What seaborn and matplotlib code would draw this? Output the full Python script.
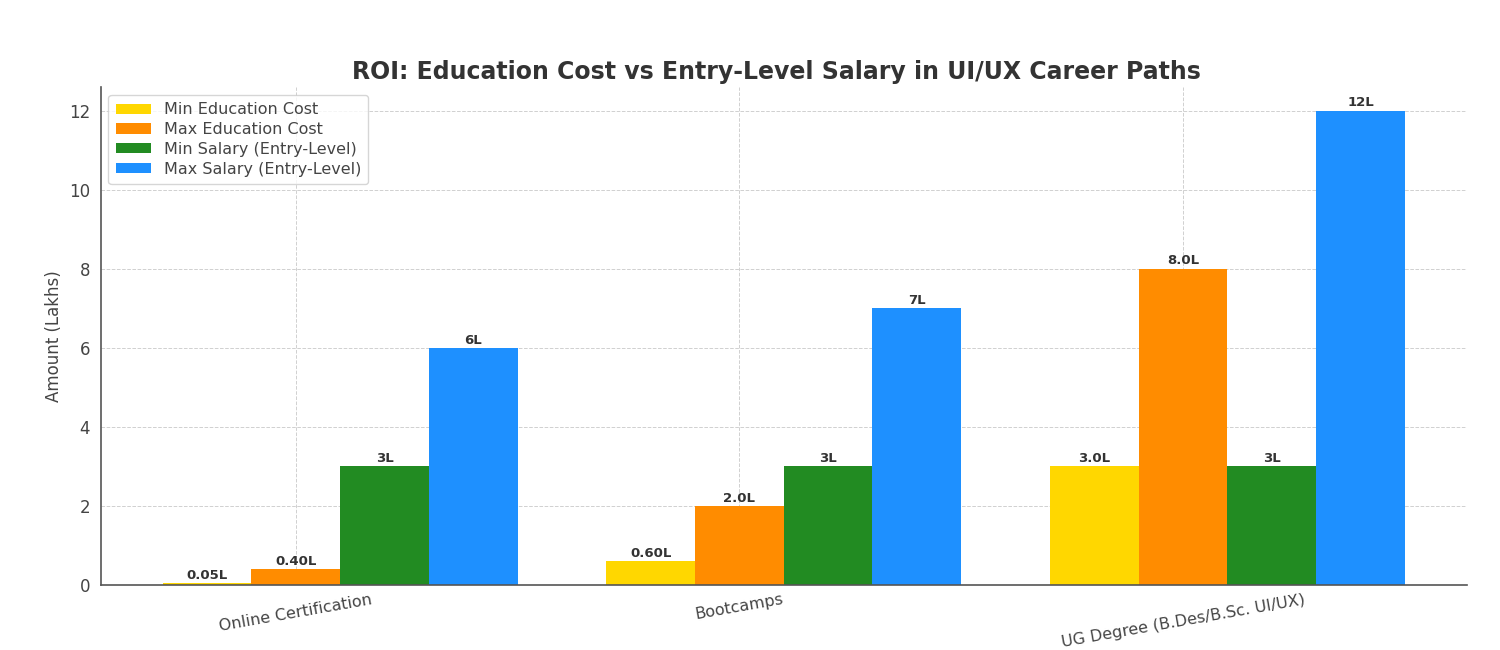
import pandas as pd
import matplotlib
matplotlib.use('Agg')
import matplotlib.pyplot as plt
import seaborn as sns

# data (Lakhs)
paths = ['Online Certification', 'Bootcamps', 'UG Degree (B.Des/B.Sc. UI/UX)']
series = ['Min Education Cost', 'Max Education Cost',
          'Min Salary (Entry-Level)', 'Max Salary (Entry-Level)']
min_cost = [0.05, 0.6, 3.0]
max_cost = [0.4, 2.0, 8.0]
min_salary = [3, 3, 3]
max_salary = [6, 7, 12]
min_cost_labels = ['0.05L', '0.60L', '3.0L']
max_cost_labels = ['0.40L', '2.0L', '8.0L']
min_salary_labels = ['3L', '3L', '3L']
max_salary_labels = ['6L', '7L', '12L']
colors = ['#FFD700', '#FF8C00', '#228B22', '#1E90FF']

values = [min_cost, max_cost, min_salary, max_salary]
labels = [min_cost_labels, max_cost_labels, min_salary_labels, max_salary_labels]

rows = []
for s, vals in zip(series, values):
    for p, v in zip(paths, vals):
        rows.append({'Path': p, 'Series': s, 'Amount': v})
df = pd.DataFrame(rows)

sns.set_style('white')
plt.rcParams['font.family'] = 'sans-serif'
plt.rcParams['font.sans-serif'] = ['DejaVu Sans']
fig, ax = plt.subplots(figsize=(15, 6.5), dpi=100)
sns.barplot(data=df, x='Path', y='Amount', hue='Series', order=paths,
            hue_order=series, palette=colors, width=0.8, saturation=1,
            edgecolor='none', ax=ax)

for cont, lab in zip(ax.containers, labels):
    ax.bar_label(cont, labels=lab, fontsize=9.5, fontweight='bold',
                 color='#333333', padding=1)

# ticks sit under the second bar of each group, as in the reference
ax.set_xticks([i - 0.1 for i in range(len(paths))])
ax.set_xticklabels(paths, rotation=10, fontsize=11.5, color='#444444')
ax.set_xlim(-0.54, len(paths) - 0.46)
ax.set_ylim(0, 12.6)
ax.set_yticks(range(0, 13, 2))
ax.tick_params(axis='y', labelsize=12, colors='#444444')
ax.tick_params(axis='x', pad=1)
ax.tick_params(axis='both', direction='out', length=4, color='#555555')
ax.set_xlabel('')
ax.set_ylabel('Amount (Lakhs)', fontsize=12, color='#444444')
ax.set_title('ROI: Education Cost vs Entry-Level Salary in UI/UX Career Paths',
             fontsize=17, fontweight='bold', color='#333333', x=0.495)
ax.grid(True, linestyle='--', linewidth=0.7, color='#d0d0d0')
ax.set_axisbelow(True)
sns.despine(ax=ax)
for sp in ['left', 'bottom']:
    ax.spines[sp].set_color('#555555')
    ax.spines[sp].set_linewidth(1.2)

ax.legend(loc='upper left', fontsize=11.5, frameon=True, title=None,
          handlelength=2.2, handleheight=0.6, labelspacing=0.3,
          borderpad=0.45, labelcolor='#444444')

fig.subplots_adjust(left=0.067, right=0.978, top=0.866, bottom=0.1)
fig.savefig('out.png', dpi=100)
